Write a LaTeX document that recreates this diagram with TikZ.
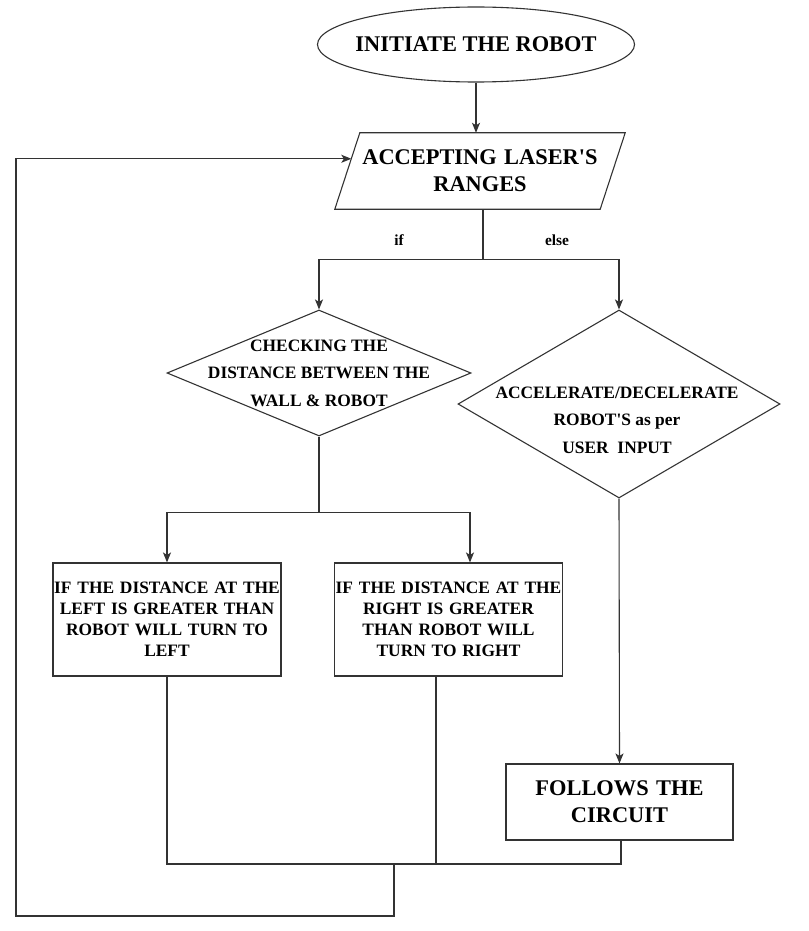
\documentclass[tikz,border=0pt]{standalone}
\usepackage{fontspec}
\setmainfont{Liberation Serif}[Ligatures=TeXOff]
\usetikzlibrary{shapes.geometric,arrows.meta,calc}

\begin{document}
\begin{tikzpicture}[x=1pt,y=-1pt,
	big/.style={font=\fontsize{22.4}{27}\selectfont\bfseries},
	mid/.style={font=\fontsize{17.4}{21}\selectfont\bfseries},
	dtext/.style={font=\fontsize{17.4}{27.5}\selectfont\bfseries, align=center},
	small/.style={font=\fontsize{15.4}{18}\selectfont\bfseries},
	terminal/.style={draw=black!80, line width=1.1pt, ellipse, inner sep=0pt, minimum width=317pt, minimum height=75pt},
	io/.style={rectangle, inner sep=0pt, minimum height=76pt, text width=240pt, align=center, big},
	decision/.style={draw=black!80, line width=1.1pt, diamond, inner sep=0pt},
	process/.style={draw=black!80, line width=1.1pt, rectangle, inner sep=0pt, minimum height=113pt, text width=228pt, align=center, mid},
	link/.style={draw=black!80, line width=1.1pt},
	arrow/.style={link, -{Stealth[length=10pt,width=8pt,inset=2.5pt]}}]
\useasboundingbox (0,0) rectangle (808,931);
%start and input
\node[terminal, label={[big]center:INITIATE THE ROBOT}] (init) at (476,44.5) {};
\node[io] (input) at (480,171) {ACCEPTING LASER'S\\RANGES};
\draw[link] (input.north west) -- ([xshift=25pt]input.north east) -- (input.south east) -- ([xshift=-25pt]input.south west) -- cycle;
\node[small] (iflab) at (399,240) {if};
\node[small] (elselab) at (557,240) {else};
%decisions
\node[decision, minimum width=304pt, minimum height=126pt, label={[dtext]center:CHECKING THE\\DISTANCE BETWEEN THE\\WALL \& ROBOT}] (check) at (319,373) {};
\node[decision, minimum width=322pt, minimum height=188pt, label={[dtext, xshift=-2pt, yshift=-16pt]center:ACCELERATE/DECELERATE\\ROBOT'S as per\\USER~~INPUT}] (accel) at (619,404) {};
%actions
\node[process] (left) at (167,619.5) {IF THE DISTANCE AT THE\\LEFT IS GREATER THAN\\ROBOT WILL TURN TO\\LEFT};
\node[process] (right) at (448.5,619.5) {IF THE DISTANCE AT THE\\RIGHT IS GREATER\\THAN ROBOT WILL\\TURN TO RIGHT};
\node[process, big, minimum height=76pt, text width=227pt] (follow) at (619.5,802) {FOLLOWS THE\\CIRCUIT};
\coordinate (merge) at (394,864);
\coordinate (corner) at (16,916);
%flow
\draw[arrow] (init.south) -- (init.south |- input.north);
\draw[link] ([xshift=3pt]input.south) -- ++(0,50) coordinate (split);
\draw[arrow] (split) -| (check.north);
\draw[arrow] (split) -| (accel.north);
\draw[link] (check.south) -- ++(0,76) coordinate (split2);
\draw[arrow] (split2) -| (left.north);
\draw[arrow] (split2) -| ([xshift=21.5pt]right.north);
\draw[arrow] (accel.south) -- (follow.north);
%back to the laser ranges
\draw[link] (left.south) |- ([xshift=1.5pt]follow.south |- merge) -- ([xshift=1.5pt]follow.south);
\draw[link] ([xshift=-12.5pt]right.south) -- ([xshift=-12.5pt]right.south |- merge);
\draw[arrow] (merge) |- (corner) |- ($(input.north west)!0.34!([xshift=-25pt]input.south west)$);
\end{tikzpicture}
\end{document}
